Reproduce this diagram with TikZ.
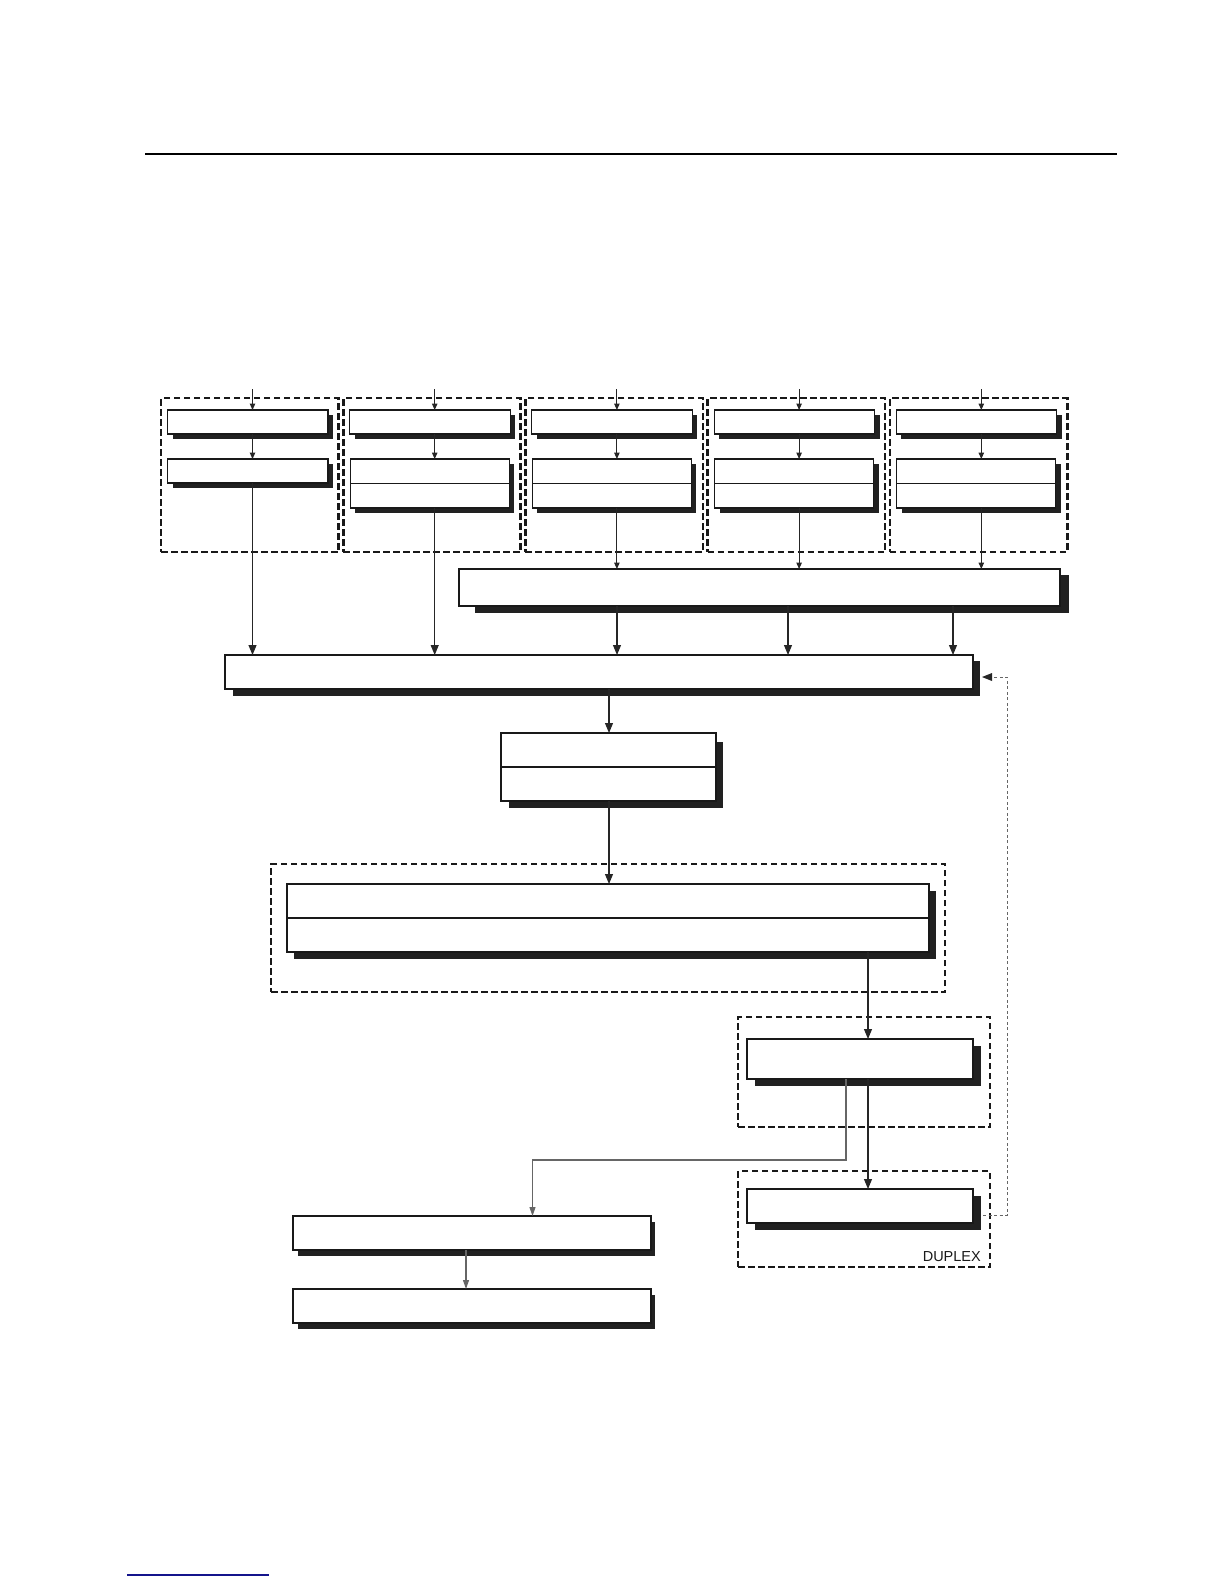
\documentclass[tikz,border=0pt]{standalone}
\usepackage{fontspec}
\setmainfont{Liberation Sans}
\usetikzlibrary{arrows.meta,calc}
\pgfdeclarelayer{bg}
\pgfsetlayers{bg,main}
\definecolor{linkblue}{RGB}{20,20,140}
\newcommand\bx[5]{\node[box,minimum width={(#4-#2)*1pt},minimum height={(#5-#3)*1pt}] (#1) at (#2,#3) {};}
\newcommand\gp[5]{\node[grp,minimum width={(#4-#2)*1pt},minimum height={(#5-#3)*1pt}] (#1) at (#2,#3) {};}
\newcommand\shd[5]{\begin{pgfonlayer}{bg}\fill[shadowc] ([xshift=#2pt,yshift=-#3pt]#1.north west) rectangle ([xshift=#4pt,yshift=-#5pt]#1.south east);\end{pgfonlayer}}
\newcommand\divd[2]{\draw[line width=#2,black!90] (#1.west) -- (#1.east);}
\begin{document}
\begin{tikzpicture}[x=1pt,y=-1pt,
 box/.style={rectangle,draw=black!90,line width=1.15pt,fill=white,inner sep=0pt,outer sep=0pt,anchor=north west},
 grp/.style={rectangle,draw=black!90,line width=2.6pt,dash pattern=on 6.5pt off 3.5pt,inner sep=0pt,outer sep=0pt,anchor=north west},
 con/.style={draw=black!85,line width=1.05pt},
 arr/.style={con,-{Triangle[length=10pt,width=8pt]}},
 arrs/.style={con,-{Triangle[length=6.5pt,width=5.5pt]}},
 arrg/.style={draw=black!60,line width=1.05pt,-{Triangle[length=9pt,width=6pt]}},
 fb/.style={draw=black!60,line width=0.75pt,dash pattern=on 3pt off 2.5pt},
 shadowc/.style={fill=black!87},
]
\useasboundingbox (0,0) rectangle (1224,1584);
% top rule and bottom link line
\draw[line width=2.2pt] (145,154) -- (1117,154);
\draw[draw=linkblue,line width=1.4pt] (127,1575) -- (269,1575);

% five input groups
\foreach \i/\gl in {1/161,2/343.2,3/525.4,4/707.6,5/889.8}{
  \node[grp,minimum width=177.5pt,minimum height=154pt] (G\i) at (\gl,398) {};
  \node[box,minimum width=160.5pt,minimum height=24pt] (A\i) at (\gl+6.5,410) {};
  \ifnum\i=1
    \node[box,minimum width=160.5pt,minimum height=24pt] (B\i) at (\gl+6.5,459) {};
  \else
    \node[box,minimum width=159pt,minimum height=49pt] (B\i) at (\gl+7,459) {};
    \divd{B\i}{1.7pt}
  \fi
  \shd{A\i}{5}{5}{5}{5}
  \shd{B\i}{5}{5}{5}{5}
  \coordinate (in\i) at (\gl+91.5,389);
  \draw[arrs] (in\i) -- (A\i.north -| in\i);
  \draw[arrs] (A\i.south -| in\i) -- (B\i.north -| in\i);
}

\bx{W}{459}{569}{1060}{606} \shd{W}{16}{6}{9}{7}
\bx{M}{225}{655}{973}{689} \shd{M}{8}{6}{7}{7}
\bx{N}{501}{733}{716}{801} \shd{N}{8}{9}{7}{7} \divd{N}{1.15pt}
\gp{BG}{271}{864}{945}{992}
\bx{L}{287}{884}{929}{952} \shd{L}{7}{7}{7}{7} \divd{L}{1.15pt}
\gp{SW}{738}{1017}{990}{1127}
\bx{P}{747}{1039}{973}{1079} \shd{P}{8}{7}{8}{7}
\gp{DX}{738}{1171}{990}{1267}
\bx{D}{747}{1189}{973}{1223} \shd{D}{8}{7}{8}{7}
\bx{Q}{293}{1216}{651}{1250} \shd{Q}{5}{6}{4}{6}
\bx{R}{293}{1289}{651}{1323} \shd{R}{5}{6}{4}{6}
\node[anchor=base east,font=\fontsize{14.5pt}{16pt}\selectfont,text=black!90,inner sep=0pt] (dup) at (981,1261) {DUPLEX};

\coordinate (c617) at (617,0);
\coordinate (c788) at (788,0);
\coordinate (c953) at (953,0);
\coordinate (c609) at (609,0);
\coordinate (c868) at (868,0);
\coordinate (c846) at (846,1160);
\coordinate (c532) at (532.5,1160);
\coordinate (c466) at (466,0);
\coordinate (fbx) at (1007,677);
\coordinate (fb0) at ($(D.east)+(10,9)$);
\coordinate (fb1) at ($(M.east)+(9,5)$);

\draw[arr] (B1.south -| in1) -- (M.north -| in1);
\draw[arr] (B2.south -| in2) -- (M.north -| in2);
\foreach \i in {3,4,5}{\draw[arrs] (B\i.south -| in\i) -- (W.north -| in\i);}
\draw[arr] (W.south -| c617) -- (M.north -| c617);
\draw[arr] (W.south -| c788) -- (M.north -| c788);
\draw[arr] (W.south -| c953) -- (M.north -| c953);
\draw[arr] (M.south -| c609) -- (N.north -| c609);
\draw[arr] (N.south -| c609) -- (L.north -| c609);
\draw[arr] (L.south -| c868) -- (P.north -| c868);
\draw[arr] (P.south -| c868) -- (D.north -| c868);
\draw[arrg] (P.south -| c846) -- (c846) -- (c532) -- (Q.north -| c532);
\draw[arrg] (Q.south -| c466) -- (R.north -| c466);
\draw[fb] (fb0) -| (fbx) -- ($(fb1)+(9,0)$);
\fill[black!85] (fb1) -- ++(10,-4) -- ++(0,8) -- cycle;
\end{tikzpicture}
\end{document}
